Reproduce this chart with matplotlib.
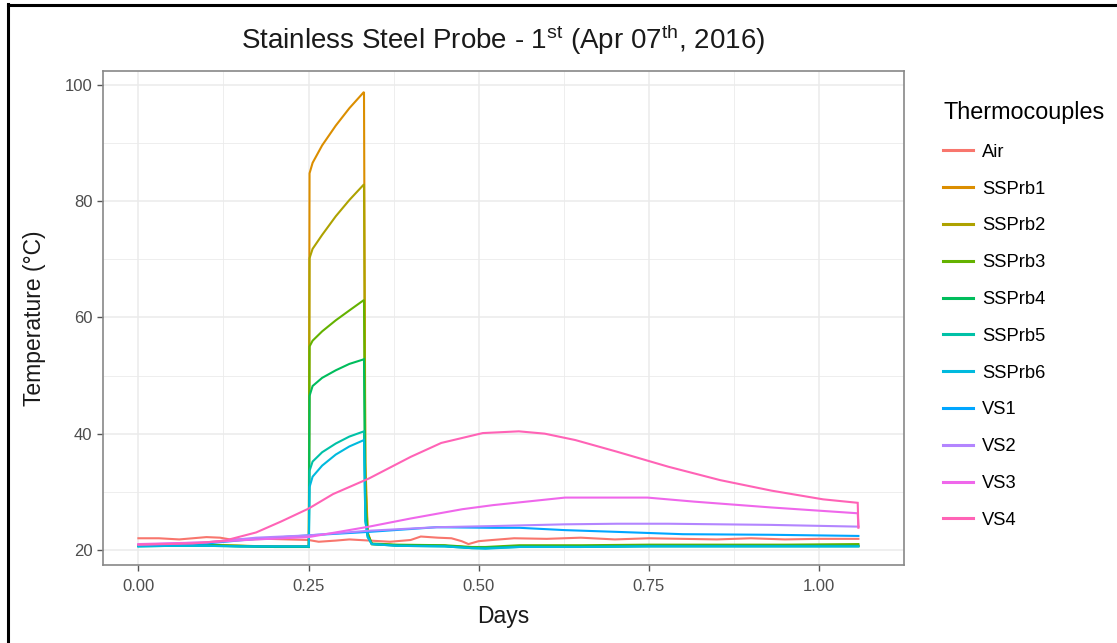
import matplotlib
matplotlib.use("Agg")
import matplotlib.pyplot as plt
from matplotlib.lines import Line2D

plt.rcParams['font.family'] = ['Liberation Sans', 'DejaVu Sans']
plt.rcParams['mathtext.default'] = 'regular'

# ---------------- data ----------------
series_names = ["Air", "SSPrb1", "SSPrb2", "SSPrb3", "SSPrb4", "SSPrb5",
                "SSPrb6", "VS1", "VS2", "VS3", "VS4"]
series_colors = ["#F8766D", "#DB8E00", "#AEA200", "#64B200", "#00BD5C",
                 "#00C1A7", "#00BADE", "#00A6FF", "#B385FF", "#EF67EB", "#FF63B6"]

air_days = [0.000, 0.030, 0.060, 0.080, 0.100, 0.120, 0.135, 0.160, 0.190, 0.220,
            0.250, 0.265, 0.290, 0.310, 0.340, 0.370, 0.400, 0.415, 0.440, 0.460,
            0.475, 0.485, 0.500, 0.520, 0.552, 0.600, 0.650, 0.700, 0.750, 0.800,
            0.850, 0.900, 0.950, 1.000, 1.058]
air_temp = [22.0, 22.0, 21.8, 22.0, 22.2, 22.1, 21.8, 21.8, 21.9, 21.8,
            21.7, 21.4, 21.6, 21.8, 21.6, 21.4, 21.7, 22.3, 22.1, 22.0,
            21.5, 21.0, 21.5, 21.7, 22.0, 21.9, 22.1, 21.8, 22.0, 21.9,
            21.8, 22.0, 21.8, 21.9, 21.9]

spike_days = [0.000, 0.050, 0.100, 0.150, 0.200, 0.2505, 0.2515, 0.256, 0.270,
              0.290, 0.310, 0.3315, 0.3335, 0.337, 0.343, 0.380, 0.450, 0.490,
              0.510, 0.560, 0.650, 0.750, 0.850, 0.950, 1.058]
ssprb1_temp = [20.7, 20.8, 20.8, 20.7, 20.6, 20.6, 84.8, 86.6, 89.6, 93.0, 96.0,
               98.8, 35.0, 23.0, 21.0, 20.8, 20.7, 20.4, 20.4, 20.6, 20.6, 20.7,
               20.7, 20.7, 20.7]
ssprb2_temp = [20.7, 20.8, 20.8, 20.7, 20.6, 20.6, 70.2, 71.8, 74.2, 77.4, 80.2,
               82.9, 32.0, 22.8, 21.0, 20.8, 20.7, 20.4, 20.4, 20.6, 20.6, 20.7,
               20.7, 20.7, 20.7]
ssprb3_temp = [20.8, 20.9, 20.9, 20.7, 20.5, 20.5, 55.0, 56.0, 57.6, 59.5, 61.2,
               63.0, 28.0, 22.6, 21.1, 20.9, 20.8, 20.5, 20.5, 20.8, 20.8, 20.9,
               20.9, 20.9, 21.0]
ssprb4_temp = [20.7, 20.8, 20.8, 20.6, 20.5, 20.5, 46.5, 48.2, 49.6, 50.9, 52.0,
               52.8, 27.0, 22.5, 21.0, 20.8, 20.7, 20.4, 20.4, 20.6, 20.6, 20.7,
               20.7, 20.7, 20.7]
ssprb5_temp = [20.6, 20.7, 20.7, 20.6, 20.6, 20.6, 33.6, 35.2, 36.8, 38.3, 39.5,
               40.4, 25.0, 22.2, 21.0, 20.7, 20.6, 20.3, 20.3, 20.5, 20.5, 20.6,
               20.6, 20.6, 20.6]
ssprb6_temp = [20.6, 20.7, 20.7, 20.6, 20.6, 20.6, 30.8, 32.6, 34.5, 36.4, 37.8,
               38.9, 25.0, 22.2, 21.0, 20.7, 20.6, 20.3, 20.2, 20.5, 20.5, 20.6,
               20.6, 20.6, 20.6]

vs1_days = [0.000, 0.100, 0.173, 0.250, 0.339, 0.438, 0.521, 0.560, 0.627,
            0.703, 0.800, 0.930, 1.058]
vs1_temp = [20.8, 21.1, 21.9, 22.5, 23.1, 23.9, 23.8, 23.8, 23.4,
            23.1, 22.7, 22.6, 22.4]

vs2_days = [0.000, 0.100, 0.173, 0.250, 0.339, 0.438, 0.521, 0.627, 0.703,
            0.779, 0.930, 1.058]
vs2_temp = [20.9, 21.3, 22.1, 22.5, 23.3, 23.9, 24.1, 24.4, 24.5,
            24.5, 24.3, 24.0]

vs3_days = [0.000, 0.100, 0.173, 0.250, 0.339, 0.400, 0.476, 0.521, 0.627,
            0.748, 0.817, 0.930, 1.057, 1.058]
vs3_temp = [21.0, 21.3, 21.8, 22.2, 24.0, 25.4, 27.0, 27.7, 29.0,
            29.0, 28.3, 27.3, 26.3, 24.0]

vs4_days = [0.000, 0.080, 0.127, 0.173, 0.210, 0.250, 0.286, 0.339, 0.400,
            0.445, 0.506, 0.559, 0.597, 0.642, 0.703, 0.779, 0.855, 0.930,
            1.006, 1.057, 1.058]
vs4_temp = [20.9, 21.1, 21.6, 23.0, 24.9, 27.1, 29.6, 32.3, 36.0,
            38.4, 40.1, 40.4, 40.0, 38.9, 36.9, 34.3, 32.0, 30.2,
            28.7, 28.1, 23.8]

x_ticks = [0.00, 0.25, 0.50, 0.75, 1.00]
x_tick_labels = ["0.00", "0.25", "0.50", "0.75", "1.00"]
y_ticks = [20, 40, 60, 80, 100]
y_tick_labels = ["20", "40", "60", "80", "100"]

series_days = [air_days, spike_days, spike_days, spike_days, spike_days,
               spike_days, spike_days, vs1_days, vs2_days, vs3_days, vs4_days]
series_temps = [air_temp, ssprb1_temp, ssprb2_temp, ssprb3_temp, ssprb4_temp,
                ssprb5_temp, ssprb6_temp, vs1_temp, vs2_temp, vs3_temp, vs4_temp]

# ---------------- figure ----------------
W, H = 1117, 643
fig = plt.figure(figsize=(W / 100, H / 100), dpi=100)
fig.patch.set_facecolor("white")

L, R, T, B = 103, 904, 71, 565
ax = fig.add_axes([L / W, 1 - B / H, (R - L) / W, (B - T) / H])

for d, t, c, n in zip(series_days, series_temps, series_colors, series_names):
    ax.plot(d, t, color=c, lw=1.5, label=n, solid_joinstyle="miter")

ax.set_xlim(-0.052, 1.109)
ax.set_ylim(17.4, 102.4)

ax.set_xticks(x_ticks)
ax.set_xticklabels(x_tick_labels)
ax.set_yticks(y_ticks)
ax.set_yticklabels(y_tick_labels)
ax.set_xticks([0.125, 0.375, 0.625, 0.875, 1.125], minor=True)
ax.set_yticks([30, 50, 70, 90], minor=True)

ax.grid(True, which="major", color="#EBEBEB", lw=1.1)
ax.grid(True, which="minor", color="#EBEBEB", lw=0.6)
ax.set_axisbelow(True)
ax.tick_params(which="minor", length=0)
ax.tick_params(which="major", length=4, width=1, color="#555555",
               labelcolor="#4D4D4D", labelsize=12)
ax.tick_params(axis="x", pad=6)
ax.tick_params(axis="y", pad=3.5)
for s in ax.spines.values():
    s.set_color("#888888")
    s.set_linewidth(1.2)

fig.text(503.5 / W, 1 - 40 / H,
         r"Stainless Steel Probe - 1$^{st}$ (Apr 07$^{th}$, 2016)",
         ha="center", va="center", fontsize=20, color="#1a1a1a")
fig.text(503.5 / W, 1 - 617 / H, "Days", ha="center", va="center",
         fontsize=16.5, color="#1a1a1a")
fig.text(35 / W, 1 - 318 / H, "Temperature (°C)", ha="center", va="center",
         rotation=90, fontsize=16.5, color="#1a1a1a")

leg = ax.legend(loc="upper left", bbox_to_anchor=(943 / W, 1 - 101 / H),
                bbox_transform=fig.transFigure, frameon=False,
                title="Thermocouples", alignment="left",
                fontsize=13.2, title_fontsize=16.8,
                handlelength=1.62, handletextpad=0.5, labelspacing=1.08,
                borderaxespad=0, borderpad=0)
for h in leg.get_lines():
    h.set_linewidth(2.2)

# outer frame lines (left and top)
fig.add_artist(Line2D([8 / W, 8 / W], [0, 1 - 4 / H], transform=fig.transFigure,
                      color="black", lw=2.2))
fig.add_artist(Line2D([8 / W, 1], [1 - 4.5 / H, 1 - 4.5 / H],
                      transform=fig.transFigure, color="black", lw=2.2))

fig.savefig("out.png", dpi=100, facecolor="white")
